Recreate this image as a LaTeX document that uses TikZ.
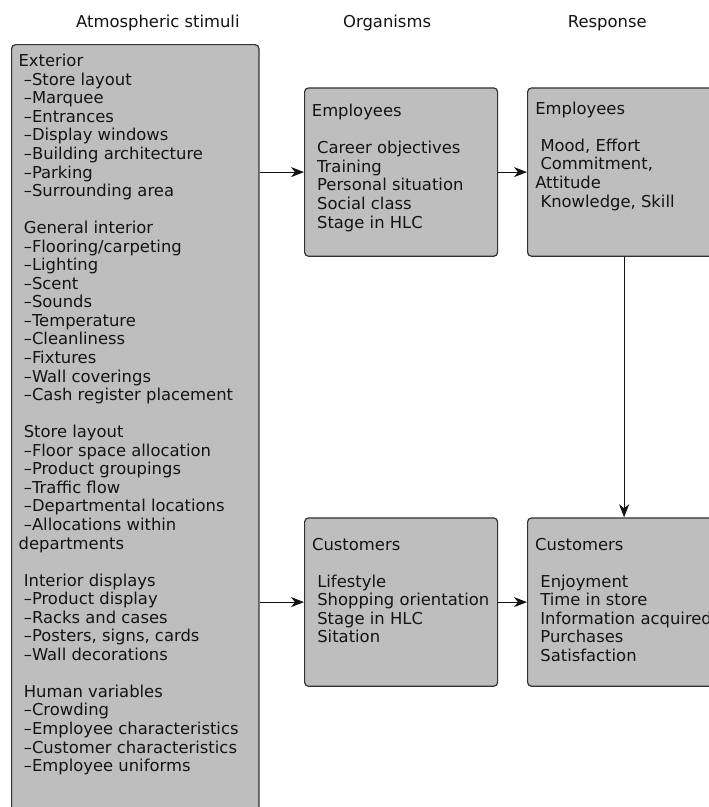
\documentclass[tikz,border=0pt]{standalone}
\usepackage{fontspec}
\setmainfont{DejaVu Sans}
\usetikzlibrary{arrows.meta}

\definecolor{boxfill}{RGB}{190,190,190}
\definecolor{boxline}{RGB}{50,50,50}
\definecolor{inkcol}{RGB}{20,20,20}

% leading blank used for indented list entries
\newcommand\ind{\hspace*{5.2pt}}
% left-aligned block of lines, baseline on the first line
\newcommand\lines[1]{\begin{tabular}[t]{@{}l@{}}#1\end{tabular}}

\begin{document}
\begin{tikzpicture}[x=1pt,y=-1pt,
  every node/.style={font=\fontsize{16.4}{18.55}\selectfont, text=inkcol},
  panel/.style={draw=boxline, line width=1.2pt, fill=boxfill,
    rounded corners=4pt, inner sep=0pt, anchor=north west},
  orgbox/.style={panel, minimum width=193pt, minimum height=168.4pt},
  label/.style={anchor=base west, inner sep=0pt},
  link/.style={draw=inkcol, line width=1pt,
    -{Stealth[length=13pt,width=10pt,inset=4pt]}}]

\useasboundingbox (0,0) rectangle (709,807);
\clip (0,0) rectangle (709,807);
\fill[white] (0,0) rectangle (709,807);

% column headings
\node[label] (hstim) at (76,27.3) {Atmospheric stimuli};
\node[label] (horg)  at (343,27.3) {Organisms};
\node[label] (hresp) at (567.7,27.3) {Response};

% stimulus panel (runs past the lower edge)
\node[panel, minimum width=247.3pt, minimum height=790pt] (stim) at (11,44) {};
\node[label] (stimtext) at (18.4,66.7) {\lines{%
Exterior\\
\ind–Store layout\\
\ind–Marquee\\
\ind–Entrances\\
\ind–Display windows\\
\ind–Building architecture\\
\ind–Parking\\
\ind–Surrounding area\\
\\
\ind General interior\\
\ind–Flooring/carpeting\\
\ind–Lighting\\
\ind–Scent\\
\ind–Sounds\\
\ind–Temperature\\
\ind–Cleanliness\\
\ind–Fixtures\\
\ind–Wall coverings\\
\ind–Cash register placement\\
\\
\ind Store layout\\
\ind–Floor space allocation\\
\ind–Product groupings\\
\ind–Traffic flow\\
\ind–Departmental locations\\
\ind–Allocations within\\
departments\\
\\
\ind Interior displays\\
\ind–Product display\\
\ind–Racks and cases\\
\ind–Posters, signs, cards\\
\ind–Wall decorations\\
\\
\ind Human variables\\
\ind–Crowding\\
\ind–Employee characteristics\\
\ind–Customer characteristics\\
\ind–Employee uniforms}};

% organism panels
\node[orgbox] (empO) at (304,87.3) {};
\node[label] (empOtext) at (311.7,116.7) {\lines{%
Employees\\
\\
\ind Career objectives\\
\ind Training\\
\ind Personal situation\\
\ind Social class\\
\ind Stage in HLC}};

\node[orgbox] (cusO) at (304,517.3) {};
\node[label] (cusOtext) at (311.9,550) {\lines{%
Customers\\
\\
\ind Lifestyle\\
\ind Shopping orientation\\
\ind Stage in HLC\\
\ind Sitation}};

% response panels
\node[orgbox] (empR) at (527,87.3) {};
\node[label] (empRtext) at (535.1,114.3) {\lines{%
Employees\\
\\
\ind Mood, Effort\\
\ind Commitment,\\
Attitude\\
\ind Knowledge, Skill}};

\node[orgbox] (cusR) at (527,517.3) {};
\node[label] (cusRtext) at (535,550) {\lines{%
Customers\\
\\
\ind Enjoyment\\
\ind Time in store\\
\ind Information acquired\\
\ind Purchases\\
\ind Satisfaction}};

% connectors
\draw[link] (stim.east |- empO.west) -- (empO.west);
\draw[link] (stim.east |- cusO.west) -- (cusO.west);
\draw[link] (empO.east) -- (empR.west);
\draw[link] (cusO.east) -- (cusR.west);
\draw[link] (empR.south) -- (cusR.north);
\end{tikzpicture}
\end{document}
